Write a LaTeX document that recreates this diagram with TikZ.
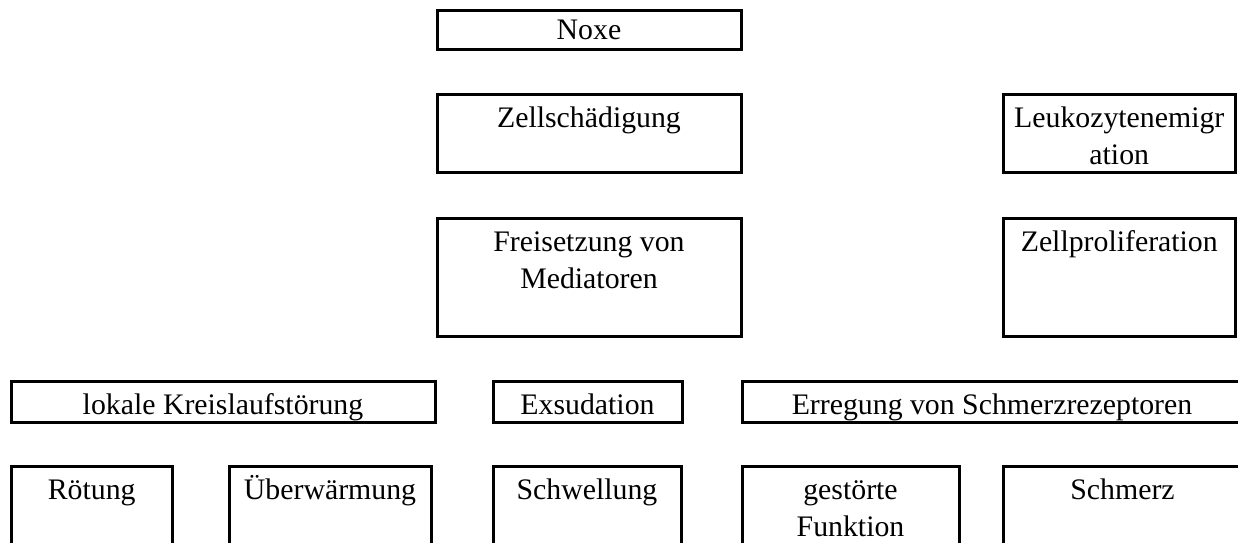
\documentclass[tikz,border=0pt]{standalone}
\usepackage{fontspec}
\setmainfont{Liberation Serif}
\tikzset{bx/.style={draw, line width=3pt, inner sep=0pt, outer sep=0pt, anchor=north west}}
\newcommand\mkboxtop[7]{\node[bx] (#1) at (#2,#3) {\parbox[t][\dimexpr#5pt-#3pt\relax][t]{\dimexpr#4pt-#2pt\relax}{\centering\fontsize{29.8}{37}\selectfont\rule{0pt}{#7}#6}};}
\newcommand\mkbox[6]{\mkboxtop{#1}{#2}{#3}{#4}{#5}{#6}{33pt}}
\begin{document}
\begin{tikzpicture}[x=1pt,y=-1pt]
\useasboundingbox (0,0) rectangle (1238,542);
\clip (0,0) rectangle (1238,542);
\mkboxtop{noxe}{437}{10}{741}{49}{Noxe}{29.5pt}
\mkbox{zell}{437}{94}{741}{172}{Zellschädigung}
\mkbox{leuk}{1003}{94}{1235.5}{172}{Leukozytenemigr\\ation}
\mkbox{frei}{437}{218}{741}{336}{Freisetzung von\\Mediatoren}
\mkbox{prolif}{1003}{218}{1235.5}{336}{Zellproliferation}
\mkbox{kreis}{11}{381}{435}{422}{lokale Kreislaufstörung}
\mkbox{exs}{493}{381}{682}{422}{Exsudation}
\mkbox{erreg}{742}{381}{1242}{422}{Erregung von Schmerzrezeptoren}
\mkbox{roet}{11}{466}{172.5}{560}{Rötung}
\mkbox{ueber}{229}{466}{431}{560}{Überwärmung}
\mkbox{schwell}{493}{466}{681}{560}{Schwellung}
\mkbox{funk}{742}{466}{959}{560}{gestörte\\Funktion}
\mkbox{schmerz}{1003}{466}{1242}{560}{Schmerz}
\end{tikzpicture}
\end{document}
